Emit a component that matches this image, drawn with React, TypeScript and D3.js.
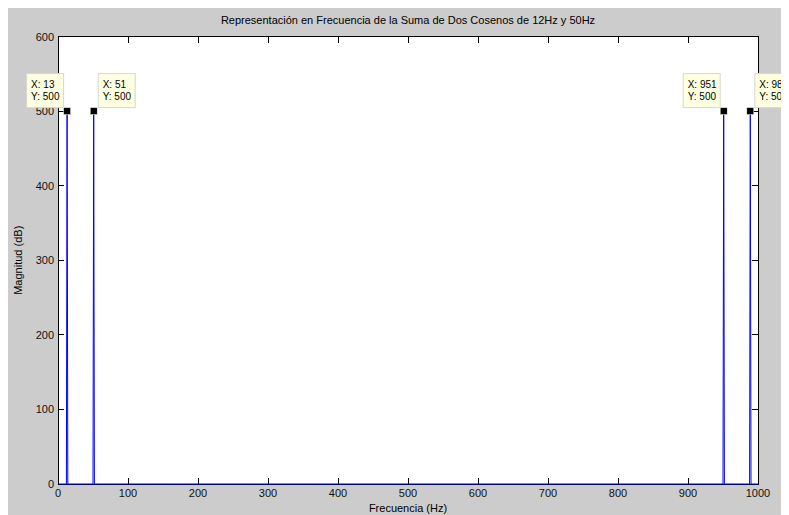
import React from "react";
import * as d3 from "d3";

// Magnitude spectrum of the sum of two cosines (12 Hz and 50 Hz), sampled by FFT bin
const spectrumFreq = [1, 12, 13, 14, 50, 51, 52, 950, 951, 952, 988, 989, 990, 1000];
const spectrumMag = [0, 0, 500, 0, 0, 500, 0, 0, 500, 0, 0, 500, 0, 0];

// Data tips placed on the spectral peaks
const peakFreqs = [13, 51, 951, 989];
const peakMags = [500, 500, 500, 500];
const tipSides = ["left", "right", "left", "right"];

const xTicks = [0, 100, 200, 300, 400, 500, 600, 700, 800, 900, 1000];
const yTicks = [0, 100, 200, 300, 400, 500, 600];

const title = "Representación en Frecuencia de la Suma de Dos Cosenos de 12Hz y 50Hz";
const xLabel = "Frecuencia (Hz)";
const yLabel = "Magnitud (dB)";

const W = 781;
const H = 507;
const plot = { left: 50, top: 28.5, right: 750, bottom: 476 };
const font = "'Liberation Sans', Arial, sans-serif";

export default function App() {
  const x = d3.scaleLinear().domain([0, 1000]).range([plot.left, plot.right]);
  const y = d3.scaleLinear().domain([0, 600]).range([plot.bottom, plot.top]);
  const points: [number, number][] = spectrumFreq.map((f, i) => [f, spectrumMag[i]]);
  const line = d3
    .line<[number, number]>()
    .x((d) => x(d[0]))
    .y((d) => y(d[1]))(points);
  const tick = 6;

  return (
    <svg width={W} height={H} style={{ display: "block", fontFamily: font }}>
      <rect x={0} y={0} width={W} height={H} fill="#cccccc" />
      <rect
        x={plot.left}
        y={plot.top}
        width={plot.right - plot.left}
        height={plot.bottom - plot.top}
        fill="#ffffff"
      />
      <text x={(plot.left + plot.right) / 2} y={16} textAnchor="middle" fontSize={11} fill="#000">
        {title}
      </text>
      {/* ticks on all four sides, pointing inward */}
      <g stroke="#000" strokeWidth={1} shapeRendering="crispEdges">
        {xTicks.map((t) => (
          <g key={"xt" + t}>
            <line x1={x(t)} x2={x(t)} y1={plot.bottom} y2={plot.bottom - tick} />
            <line x1={x(t)} x2={x(t)} y1={plot.top} y2={plot.top + tick} />
          </g>
        ))}
        {yTicks.map((t) => (
          <g key={"yt" + t}>
            <line x1={plot.left} x2={plot.left + tick} y1={y(t)} y2={y(t)} />
            <line x1={plot.right} x2={plot.right - tick} y1={y(t)} y2={y(t)} />
          </g>
        ))}
        <rect
          x={plot.left}
          y={plot.top}
          width={plot.right - plot.left}
          height={plot.bottom - plot.top}
          fill="none"
        />
      </g>
      <g fontSize={11} fill="#111">
        {xTicks.map((t) => (
          <text key={"xl" + t} x={x(t)} y={plot.bottom + 13} textAnchor="middle">
            {t}
          </text>
        ))}
        {yTicks.map((t) => (
          <text key={"yl" + t} x={plot.left - 4} y={y(t) + 4} textAnchor="end">
            {t}
          </text>
        ))}
      </g>
      <text x={(plot.left + plot.right) / 2} y={504} textAnchor="middle" fontSize={11} fill="#000">
        {xLabel}
      </text>
      <text
        transform={`translate(${14},${(plot.top + plot.bottom) / 2}) rotate(-90)`}
        textAnchor="middle"
        fontSize={11}
        fill="#000"
      >
        {yLabel}
      </text>
      <path d={line || ""} fill="none" stroke="#0000ff" strokeWidth={1} />
      {peakFreqs.map((f, i) => {
        const px = x(f);
        const py = y(peakMags[i]);
        const bw = 37;
        const bh = 34;
        const left = tipSides[i] === "left";
        const bx = left ? px - 4 - bw : px + 4;
        const by = py - 4 - bh;
        return (
          <g key={"tip" + f}>
            <rect x={bx + 0.5} y={by + 0.5} width={bw} height={bh} fill="#ffffe1" stroke="#d8d8d0" />
            <text x={bx + 5} y={by + 15} fontSize={10} fill="#000">
              {"X: " + f}
            </text>
            <text x={bx + 5} y={by + 27} fontSize={10} fill="#000">
              {"Y: " + peakMags[i]}
            </text>
            <rect x={px - 3.5} y={py - 3.5} width={7} height={7} fill="#000" stroke="#ffffe1" strokeWidth={0.5} />
          </g>
        );
      })}
    </svg>
  );
}
